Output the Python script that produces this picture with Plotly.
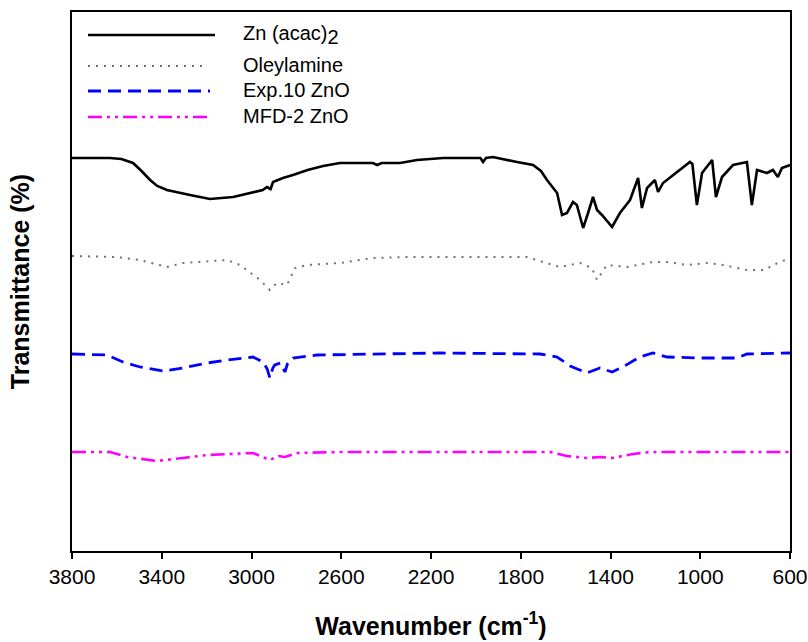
import plotly.graph_objects as go

# ---------------- data ----------------
zn_wn = [3800, 3631, 3580, 3528, 3490, 3452, 3420, 3377, 3274, 3185, 3082, 2993, 2950, 2931,
         2915, 2904, 2860, 2815, 2750, 2681, 2606, 2459, 2440, 2420, 2338, 2262, 2146, 1980,
         1968, 1955, 1924, 1817, 1745, 1710, 1683, 1638, 1616, 1594, 1567, 1550, 1522, 1500,
         1478, 1460, 1438, 1393, 1358, 1313, 1277, 1260, 1237, 1202, 1188, 1166, 1104, 1046,
         1035, 1015, 992, 947, 930, 903, 854, 792, 770, 747, 703, 676, 654, 636, 600]
zn_t = [393, 393, 392, 388, 380, 371, 365, 361, 356, 352, 354, 359, 361, 364,
        362, 369, 373, 376, 381, 385, 388, 388, 386, 388, 388, 391, 393, 393,
        389, 393, 394, 389, 386, 380, 371, 358, 336, 338, 349, 346, 323, 338,
        354, 341, 336, 324, 338, 351, 373, 343, 363, 371, 359, 368, 379, 389,
        387, 346, 378, 391, 354, 374, 386, 389, 346, 381, 378, 381, 374, 383, 386]

ole_wn = [3800, 3600, 3497, 3377, 3305, 3198, 3109, 3051, 3007, 2962, 2918, 2887, 2842, 2806,
          2753, 2606, 2459, 2307, 2173, 1772, 1701, 1625, 1536, 1483, 1460, 1416, 1327, 1211,
          1148, 1059, 970, 899, 792, 712, 676, 600]
ole_t = [295, 294, 291, 284, 288, 290, 291, 286, 279, 271, 261, 268, 266, 283,
         286, 288, 293, 294, 294, 294, 289, 284, 288, 283, 271, 286, 284, 289,
         289, 286, 288, 286, 281, 281, 286, 293]

exp_wn = [3800, 3644, 3573, 3497, 3394, 3305, 3198, 3109, 2993, 2949, 2930, 2918, 2905, 2896,
          2870, 2851, 2840, 2815, 2708, 2459, 2160, 1714, 1638, 1580, 1505, 1447, 1393, 1345,
          1269, 1211, 1148, 1001, 836, 792, 600]
exp_t = [197, 196, 189, 184, 180, 183, 188, 191, 194, 189, 182, 173, 183, 186,
         188, 179, 187, 193, 196, 197, 198, 197, 194, 185, 178, 183, 179, 184,
         194, 198, 194, 193, 193, 197, 198]

mfd_wn = [3800, 3630, 3555, 3421, 3305, 3198, 2993, 2918, 2880, 2851, 2797, 2606, 1670, 1594,
          1505, 1447, 1393, 1300, 1224, 600]
mfd_t = [99, 99, 94, 90, 93, 96, 98, 91, 95, 94, 98, 99, 99, 95,
         93, 94, 93, 97, 99, 99]

series_names = ["Zn (acac)<sub><span style='font-size:20px'>2</span></sub>",
                "Oleylamine", "Exp.10 ZnO", "MFD-2 ZnO"]
x_ticks = [3800, 3400, 3000, 2600, 2200, 1800, 1400, 1000, 600]

# ---------------- styling ----------------
styles = [
    dict(color="black", width=2.6, dash="solid"),
    dict(color="#707070", width=2, dash="2px,6px"),
    dict(color="#0000ff", width=2.8, dash="13px,7px"),
    dict(color="#ff00ff", width=2.6, dash="14px,5px,3px,5px,3px,5px"),
]

fig = go.Figure()
for wn, t, name, st in zip([zn_wn, ole_wn, exp_wn, mfd_wn], [zn_t, ole_t, exp_t, mfd_t],
                           series_names, styles):
    fig.add_trace(go.Scatter(x=wn, y=t, mode="lines", name=name, line=st, showlegend=False))

# custom legend (long line samples like the original)
L, R, T, B = 72, 790, 12, 551
W, H = R - L, B - T
def px(x):
    return (x - L) / W
def py(y):
    return (B - y) / H

leg_rows = [35, 66, 91, 117]
text_rows = [35, 65, 90, 116]
leg_ends = [215, 208, 210, 208]
shapes = []
annotations = []
for name, st, yy, ty, xe in zip(series_names, styles, leg_rows, text_rows, leg_ends):
    shapes.append(dict(type="line", xref="paper", yref="paper",
                       x0=px(88), x1=px(xe), y0=py(yy), y1=py(yy),
                       line=dict(color=st["color"], width=st["width"], dash=st["dash"])))
    annotations.append(dict(xref="paper", yref="paper", x=px(241), y=py(ty),
                            xanchor="left", yanchor="middle", showarrow=False, text=name,
                            font=dict(family="Liberation Sans, Arial", size=20, color="black")))

fig.update_layout(
    width=808, height=642,
    margin=dict(l=L, r=808 - R, t=T, b=642 - B, autoexpand=False),
    paper_bgcolor="white", plot_bgcolor="white",
    shapes=shapes, annotations=annotations,
    xaxis=dict(
        range=[3800, 600], tickvals=x_ticks, ticktext=[str(v) for v in x_ticks],
        ticks="outside", ticklen=6, tickwidth=2, tickcolor="black",
        showline=True, linecolor="black", linewidth=2, mirror=True,
        showgrid=False, zeroline=False, ticklabeloverflow="allow", automargin=False,
        tickfont=dict(family="Liberation Sans, Arial", size=21, color="black"),
        title=dict(text="<b>Wavenumber (cm<sup>-1</sup>)</b>", standoff=30,
                   font=dict(family="Liberation Sans, Arial", size=25, color="black")),
    ),
    yaxis=dict(
        range=[0, 539], showticklabels=False, ticks="", automargin=False,
        showline=True, linecolor="black", linewidth=2, mirror=True,
        showgrid=False, zeroline=False,
        title=dict(text="<b>Transmittance (%)</b>", standoff=33,
                   font=dict(family="Liberation Sans, Arial", size=25, color="black")),
    ),
)

fig.write_html("out.html")
